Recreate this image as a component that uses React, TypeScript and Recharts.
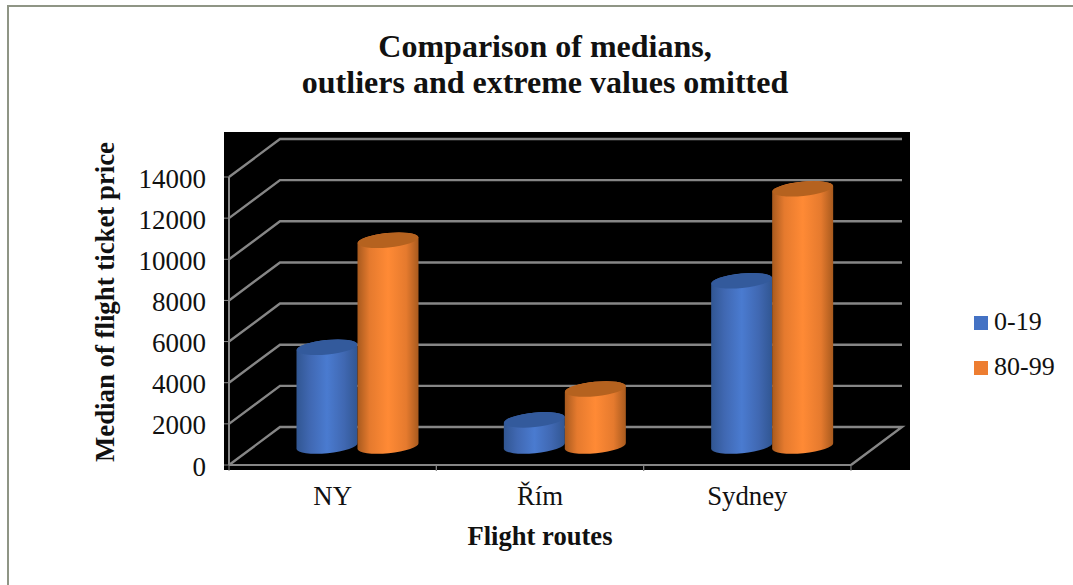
import { Bar, BarChart, CartesianGrid, Legend, XAxis, YAxis } from 'recharts'

const routes = ['NY', 'Řím', 'Sydney']
const youngest = [4800, 1270, 8030]
const oldest = [10000, 2770, 12500]
const priceTicks = [0, 2000, 4000, 6000, 8000, 10000, 12000, 14000]

const chartData = routes.map((route, i) => ({
  route,
  '0-19': youngest[i],
  '80-99': oldest[i],
}))

const FONT = '"Liberation Serif", "Times New Roman", serif'
const GRID = '#868686'
const PLOT_BOTTOM = 465
// offset of the back wall from the front of the 3D box
const DEPTH_X = 51
const DEPTH_Y = 38
const BAND = 207.3

// Grid line that runs up the side wall, then across the back wall
function WallLine(props: any) {
  const { x1, x2, y1 } = props
  const by = y1 - DEPTH_Y
  let d = `M${x1},${y1} L${x1 + DEPTH_X},${by} L${x2 + DEPTH_X},${by}`
  if (Math.abs(y1 - PLOT_BOTTOM) < 1) d += ` L${x2},${y1}`
  return <path d={d} fill="none" stroke={GRID} strokeWidth={2.4} />
}

// Bars sit halfway into the box, so shift them by half the depth
function Cylinder(props: any) {
  const { x, y, width, height, index, gradient, cap } = props
  const r = width / 2
  const cx = x + r + DEPTH_X / 2 - 0.5
  const top = y - DEPTH_Y / 2
  const bottom = y + height - DEPTH_Y / 2
  const ry = 7.2
  const tilt = -5.6
  const slope = 3
  const side =
    `M${cx - r},${top + slope} L${cx - r},${bottom + slope} ` +
    `A${r} ${ry} ${tilt} 0 0 ${cx + r},${bottom - slope} ` +
    `L${cx + r},${top - slope} A${r} ${ry} ${tilt} 0 0 ${cx - r},${top + slope} Z`
  return (
    <g key={index}>
      <path d={side} fill={`url(#${gradient})`} />
      <ellipse cx={cx} cy={top} rx={r} ry={ry} fill={cap} transform={`rotate(${tilt} ${cx} ${top})`} />
    </g>
  )
}

function RouteTick(props: any) {
  const { x, y, payload } = props
  return (
    <g>
      <line x1={x - BAND / 2} x2={x - BAND / 2} y1={y - 8} y2={y - 2} stroke={GRID} />
      <line x1={x + BAND / 2} x2={x + BAND / 2} y1={y - 8} y2={y - 2} stroke={GRID} />
      <text x={x} y={y + 32} textAnchor="middle" fontFamily={FONT} fontSize={26.8} fill="#111">
        {payload.value}
      </text>
    </g>
  )
}

function KeyList() {
  const keys = [
    { label: '0-19', color: '#4472c4' },
    { label: '80-99', color: '#ed7d31' },
  ]
  return (
    <div style={{ fontFamily: FONT, fontSize: 26, color: '#111', width: 100 }}>
      {keys.map((k) => (
        <div key={k.label} style={{ display: 'flex', alignItems: 'center', height: 45 }}>
          <span style={{ width: 14, height: 14, background: k.color, marginRight: 6, marginTop: 2 }} />
          {k.label}
        </div>
      ))}
    </div>
  )
}

export default function App() {
  return (
    <div style={{ position: 'absolute', left: 0, top: 0, width: 1073, height: 585, background: '#fff', overflow: 'hidden' }}>
      <div style={{ position: 'absolute', left: 7, top: 5, width: 1073, height: 585, borderLeft: '2px solid #8f9585', borderTop: '2px solid #8f9585' }} />
      <div style={{ position: 'absolute', left: 224, top: 132, width: 686, height: 338, background: '#000' }} />
      <div style={{ position: 'absolute', left: 0, top: 0 }}>
        <BarChart
          width={1073}
          height={585}
          data={chartData}
          barGap={0}
          barCategoryGap={42.5}
          margin={{ top: 177, right: 122, bottom: 0, left: 0 }}
        >
          <defs>
            <linearGradient id="blueSide" x1="0" x2="1" y1="0" y2="0">
              <stop offset="0" stopColor="#315692" />
              <stop offset="0.22" stopColor="#4068b2" />
              <stop offset="0.5" stopColor="#4a7bd0" />
              <stop offset="0.78" stopColor="#4068b2" />
              <stop offset="1" stopColor="#315692" />
            </linearGradient>
            <linearGradient id="orangeSide" x1="0" x2="1" y1="0" y2="0">
              <stop offset="0" stopColor="#a85a1e" />
              <stop offset="0.2" stopColor="#e57a2e" />
              <stop offset="0.5" stopColor="#ff8a35" />
              <stop offset="0.8" stopColor="#e57a2e" />
              <stop offset="1" stopColor="#a85a1e" />
            </linearGradient>
          </defs>
          <text x={545} y={57} textAnchor="middle" fontFamily={FONT} fontSize={32} fontWeight="bold" fill="#111">
            Comparison of medians,
          </text>
          <text x={545} y={93} textAnchor="middle" fontFamily={FONT} fontSize={32} fontWeight="bold" fill="#111">
            outliers and extreme values omitted
          </text>
          <CartesianGrid vertical={false} horizontal={WallLine} />
          <XAxis
            dataKey="route"
            height={120}
            interval={0}
            tickLine={false}
            axisLine={{ stroke: GRID, strokeWidth: 2 }}
            tick={RouteTick}
            label={{ value: 'Flight routes', position: 'insideBottom', offset: 40, fontFamily: FONT, fontSize: 26.6, fontWeight: 'bold', fill: '#111' }}
          />
          <YAxis
            width={229}
            domain={[0, 14000]}
            ticks={priceTicks}
            interval={0}
            tickSize={5}
            tickMargin={18}
            axisLine={{ stroke: GRID, strokeWidth: 2 }}
            tickLine={{ stroke: GRID }}
            tick={{ fontFamily: FONT, fontSize: 27, fill: '#111', dy: 1 }}
            label={{ value: 'Median of flight ticket price', angle: -90, position: 'insideLeft', offset: 104, dy: -19, textAnchor: 'middle', fontFamily: FONT, fontSize: 26.8, fontWeight: 'bold', fill: '#111' }}
          />
          <Legend
            layout="vertical"
            align="right"
            verticalAlign="middle"
            content={<KeyList />}
            wrapperStyle={{ left: 974, top: 299, width: 100 }}
          />
          <Bar
            dataKey="0-19"
            isAnimationActive={false}
            fill="#4472c4"
            shape={(p: any) => <Cylinder {...p} gradient="blueSide" cap="#335a9c" />}
          />
          <Bar
            dataKey="80-99"
            isAnimationActive={false}
            fill="#ed7d31"
            shape={(p: any) => <Cylinder {...p} gradient="orangeSide" cap="#b5621f" />}
          />
        </BarChart>
      </div>
    </div>
  )
}
